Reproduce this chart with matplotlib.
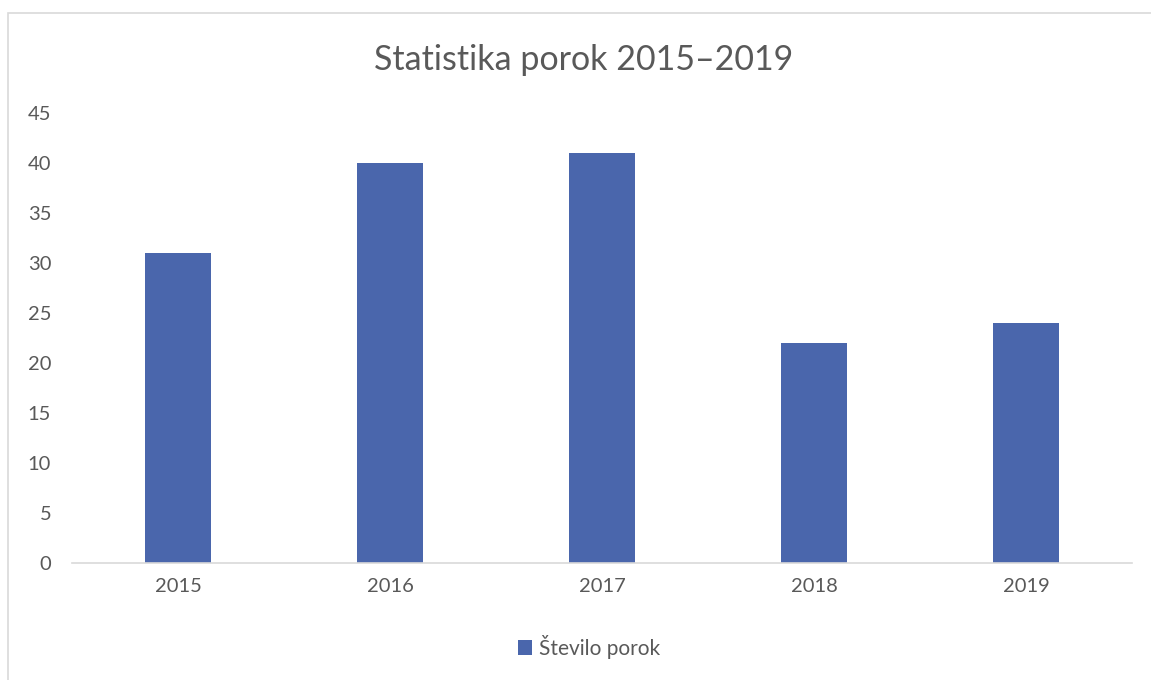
import matplotlib
matplotlib.use("Agg")
import matplotlib.pyplot as plt
from matplotlib.patches import Rectangle

years = ["2015", "2016", "2017", "2018", "2019"]
values = [31, 40, 41, 22, 24]
series_name = "Število porok"
title = "Statistika porok 2015–2019"

plt.rcParams['font.family'] = ['Lato', 'DejaVu Sans']
text_color = "#595959"
bar_color = "#4A66AC"

fig = plt.figure(figsize=(11.51, 6.80), dpi=100)
ax = fig.add_axes([72/1151, 1-563/680, (1132-72)/1151, (563-113)/680])

x = range(len(years))
ax.bar(x, values, width=0.31, color=bar_color, label=series_name, zorder=2)
ax.set_xlim(-0.5, len(years)-0.5)
ax.set_ylim(0, 45)
ax.set_yticks(range(0, 46, 5))
ax.set_xticks(list(x))
ax.set_xticklabels(years)

for s in ["top", "right", "left"]:
    ax.spines[s].set_visible(False)
ax.spines["bottom"].set_color("#D9D9D9")
ax.spines["bottom"].set_linewidth(1.2)
ax.tick_params(axis="both", length=0, labelsize=14.5, labelcolor=text_color)
ax.tick_params(axis="y", pad=15)
ax.tick_params(axis="x", pad=11)
for lab in ax.get_yticklabels():
    lab.set_horizontalalignment("right")

fig.text(584/1151, 1-60/680, title, ha="center", va="center", fontsize=24.5, color=text_color)

handles, labels = ax.get_legend_handles_labels()
leg = fig.legend(handles, labels, loc="center", bbox_to_anchor=(589/1151, 1-647/680),
                 frameon=False, fontsize=15, handlelength=0.7, handleheight=0.7,
                 handletextpad=0.35, labelcolor=text_color)

fig.patches.append(Rectangle((8/1151, -0.01), 1.5, 1-13/680+0.01, transform=fig.transFigure,
                             fill=False, edgecolor="#D9D9D9", linewidth=1.2))

fig.savefig("out.png", dpi=100)
